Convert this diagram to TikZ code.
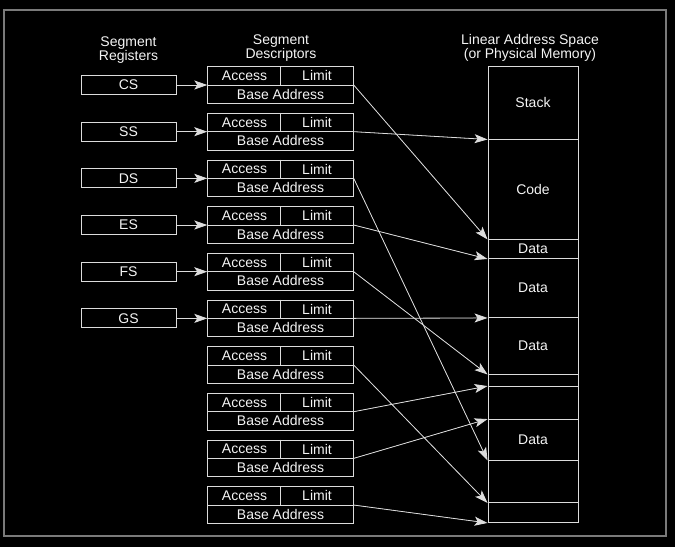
\documentclass[tikz,border=0pt]{standalone}
\usepackage{fontspec}
\setmainfont{Liberation Sans}
\usetikzlibrary{arrows.meta,positioning,calc}
\definecolor{segline}{HTML}{DCDCDC}
\definecolor{segframe}{HTML}{7A7A7A}
\definecolor{segtext}{HTML}{F4F4F4}
\tikzset{
  lbl/.style={text=segtext, font=\fontsize{14}{13.5}\selectfont, inner sep=0pt, align=center},
  bx/.style={draw=segline, line width=0.9pt, inner sep=0pt},
  reg/.style={bx, lbl, minimum width=95pt, minimum height=19pt},
  desc/.style={bx, minimum width=145.5pt, minimum height=36.6pt},
  mem/.style={bx, lbl, minimum width=90pt},
  arr/.style={-{Stealth[length=13pt, width=9pt, inset=3pt]}, draw=segline, fill=white, line width=0.8pt},
}
\begin{document}
\begin{tikzpicture}[x=1pt, y=-1pt]
  \fill[black] (0,0) rectangle (675,547);
  \useasboundingbox (0,0) rectangle (675,547);
  \draw[segframe, line width=2pt] (4,10) rectangle (666,536);
  % column headings
  \node[lbl] (hReg) at (128.5,50) {Segment\\Registers};
  \node[lbl] (hDesc) at (281,48) {Segment\\Descriptors};
  \node[lbl] (hMem) at (530,48) {Linear Address Space\\(or Physical Memory)};
  % descriptor table
  \foreach \i in {1,...,10} {
    \pgfmathsetmacro\yy{85+46.67*(\i-1)}
    \node[desc] (d\i) at (280.5,\yy) {};
    \draw[bx] (d\i.west) -- (d\i.east);
    \draw[bx] (d\i.north) -- (d\i.center);
    \node[lbl] (acc\i) at (244.5,{\yy-9.2}) {Access};
    \node[lbl] (lim\i) at (317,{\yy-9.2}) {Limit};
    \node[lbl] (base\i) at (280.5,{\yy+9.2}) {Base Address};
  }
  % segment registers
  \foreach \r [count=\i] in {CS,SS,DS,ES,FS,GS} {
    \pgfmathsetmacro\yy{85+46.67*(\i-1)}
    \node[reg] (\r) at (128.5,\yy) {\r};
    \draw[arr] (\r) -- (d\i);
  }
  % linear address space
  \foreach \n/\t/\b/\txt in {mStack/66.5/139/Stack, mCode/139/239/Code,
      mDataA/239/258.5/Data, mDataB/258.5/317.5/Data, mDataC/317.5/374/Data,
      mGapA/374/386.5/, mGapB/386.5/419.5/, mDataD/419.5/460/Data,
      mGapC/460/502.5/, mGapD/502.5/522.5/} {
    \pgfmathsetmacro\h{\b-\t}
    \pgfmathsetmacro\c{(\b+\t)/2}
    \node[mem, minimum height=\h pt] (\n) at (533,\c) {\txt};
  }
  % descriptor -> segment base
  \foreach \i/\tgt in {1/mCode.south west, 2/mStack.south west, 3/mDataD.south west,
      4/mDataA.south west, 5/mDataC.south west, 6/mDataB.south west,
      7/mGapC.south west, 8/mGapB.north west, 9/mDataD.north west, 10/mGapD.south west}
    \draw[arr] (d\i.east) -- (\tgt);
\end{tikzpicture}
\end{document}
